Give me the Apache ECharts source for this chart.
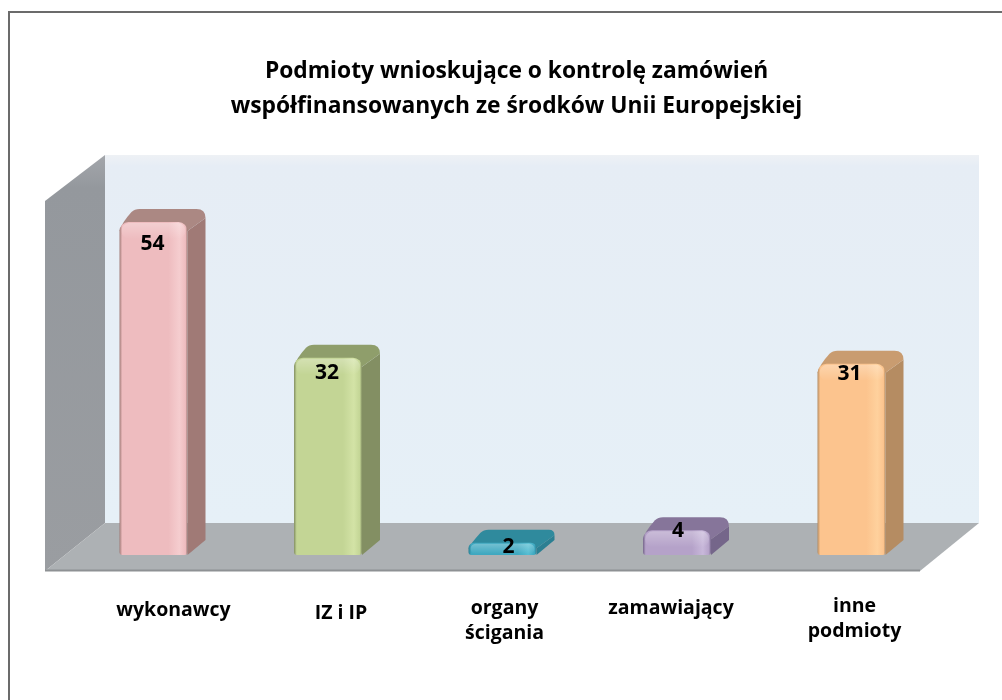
<!DOCTYPE html>
<html>
<head>
<meta charset="utf-8">
<title>Podmioty wnioskujące o kontrolę zamówień</title>
<script src="https://cdn.jsdelivr.net/npm/echarts@6/dist/echarts.min.js"></script>
<style>
  html, body { margin: 0; padding: 0; background: #fff; }
  #chart { width: 1002px; height: 700px; }
</style>
</head>
<body>
<div id="chart"></div>
<script>
const categories = ['wykonawcy', 'IZ i IP', 'organy\nścigania', 'zamawiający', 'inne\npodmioty'];
const values = [54, 32, 2, 4, 31];
const titleText = 'Podmioty wnioskujące o kontrolę zamówień\nwspółfinansowanych ze środków Unii Europejskiej';

// front, highlight, top face, side face
const barColors = [
  ['#eebcbf', '#f5cdcf', '#ab8883', '#a07a76'],
  ['#c3d595', '#d3e3a6', '#8f9e6b', '#838f63'],
  ['#3fa8c0', '#55bdd2', '#2f8a9d', '#2b7f92'],
  ['#b5a2c9', '#c8b8da', '#86759a', '#75668a'],
  ['#fcc48e', '#ffd19d', '#c99c70', '#b58c62']
];

// hand placement of the texts, the source picture does not centre them
const valueNudge = [[-1, 22], [-1, 15], [6, 4], [1, 1], [-2, 10]];
const categoryNudge = [[20, 43], [13, 46], [2, 41], [-6, 41], [3, 39]];

const fontName = '"Open Sans", "Noto Sans", sans-serif';
const halfW = 34;
const dx = 18;
const dy = 13;

function renderBar(params, api) {
  const i = params.dataIndex;
  const base = api.coord([api.value(0), 0]);
  const top = api.coord([api.value(0), api.value(1)]);
  const x0 = base[0] - halfW;
  const x1 = base[0] + halfW;
  const y0 = top[1];
  const y1 = base[1];
  const c = barColors[i];
  const h = y1 - y0;
  const r = Math.min(9, h * 0.45);

  const sidePath = 'M' + x1 + ' ' + (y0 + r) + ' L' + (x1 + dx) + ' ' + (y0 - dy + r) +
    ' L' + (x1 + dx) + ' ' + (y1 - dy - 2) + ' L' + x1 + ' ' + y1 + ' Z';
  const topPath = 'M' + x0 + ' ' + (y0 + r) +
    ' Q' + (x0 + 2) + ' ' + (y0 + 1) + ' ' + (x0 + dx - 6) + ' ' + (y0 - dy + 3) +
    ' Q' + (x0 + dx - 3) + ' ' + (y0 - dy) + ' ' + (x0 + dx + 2) + ' ' + (y0 - dy) +
    ' L' + (x1 + dx - r) + ' ' + (y0 - dy) +
    ' Q' + (x1 + dx) + ' ' + (y0 - dy) + ' ' + (x1 + dx) + ' ' + (y0 - dy + r) +
    ' L' + x1 + ' ' + (y0 + r) + ' Z';

  return {
    type: 'group',
    children: [
      { type: 'path', shape: { pathData: sidePath }, style: { fill: c[3] } },
      { type: 'path', shape: { pathData: topPath }, style: { fill: c[2] } },
      {
        type: 'rect',
        shape: { x: x0, y: y0, width: x1 - x0, height: h, r: [r, r, 3, 3] },
        style: {
          fill: new echarts.graphic.LinearGradient(0, 0, 1, 0, [
            { offset: 0, color: c[3] },
            { offset: 0.04, color: c[0] },
            { offset: 0.72, color: c[0] },
            { offset: 0.88, color: c[1] },
            { offset: 0.97, color: c[0] },
            { offset: 1, color: c[3] }
          ])
        }
      },
      {
        type: 'rect',
        shape: { x: x0 + 2, y: y0 + 1, width: x1 - x0 - 4, height: Math.min(16, h - 2), r: r },
        style: {
          fill: new echarts.graphic.LinearGradient(0, 0, 0, 1, [
            { offset: 0, color: 'rgba(255,255,255,0.28)' },
            { offset: 1, color: 'rgba(255,255,255,0)' }
          ])
        }
      },
      {
        type: 'text',
        style: {
          x: base[0] + valueNudge[i][0],
          y: y0 + valueNudge[i][1],
          text: String(api.value(1)),
          font: 'bold 21px ' + fontName,
          fill: '#000',
          align: 'center',
          verticalAlign: 'middle'
        }
      },
      {
        type: 'text',
        style: {
          x: base[0] + categoryNudge[i][0],
          y: y1 + categoryNudge[i][1],
          text: categories[i],
          font: 'bold 19.5px ' + fontName,
          lineHeight: 25,
          fill: '#000',
          align: 'center',
          verticalAlign: 'top'
        }
      }
    ]
  };
}

const chart = echarts.init(document.getElementById('chart'));

chart.setOption({
  animation: false,
  backgroundColor: '#fff',
  title: {
    text: titleText,
    left: 511.5,
    top: 49,
    textAlign: 'center',
    textStyle: { fontFamily: fontName, fontWeight: 'bold', fontSize: 22.8, lineHeight: 35, color: '#000' }
  },
  grid: { left: 66.25, top: 185, width: 872.5, height: 370 },
  xAxis: {
    type: 'category',
    data: categories,
    axisLine: { show: false },
    axisTick: { show: false },
    axisLabel: { show: false }
  },
  yAxis: {
    type: 'value',
    min: 0,
    max: 60,
    axisLine: { show: false },
    axisTick: { show: false },
    axisLabel: { show: false },
    splitLine: { show: false }
  },
  graphic: [
    // frame, only left and top sides are in the picture
    { type: 'polyline', z: 0, shape: { points: [[9, 700], [9, 12], [1002, 12]] }, style: { fill: null, stroke: '#6b6b6b', lineWidth: 2 } },
    // back wall
    {
      type: 'rect', z: 0, shape: { x: 105, y: 155, width: 874, height: 368 },
      style: {
        fill: new echarts.graphic.LinearGradient(0, 0, 0, 1, [
          { offset: 0, color: '#eef1f5' },
          { offset: 0.03, color: '#e6edf5' },
          { offset: 1, color: '#e6f0f7' }
        ])
      }
    },
    // left wall
    {
      type: 'polygon', z: 0, shape: { points: [[45, 201], [105, 155], [105, 523], [45, 571]] },
      style: {
        fill: new echarts.graphic.LinearGradient(0, 0, 0, 1, [
          { offset: 0, color: '#a3a6ab' },
          { offset: 0.08, color: '#94989d' },
          { offset: 1, color: '#9a9da1' }
        ])
      }
    },
    // floor
    {
      type: 'polygon', z: 0, shape: { points: [[105, 523], [979, 523], [920, 571], [45, 571]] },
      style: { fill: '#adb1b4' }
    },
    { type: 'line', z: 0, shape: { x1: 45, y1: 570.5, x2: 920, y2: 570.5 }, style: { stroke: '#8e9194', lineWidth: 2 } }
  ],
  series: [
    {
      type: 'custom',
      z: 5,
      coordinateSystem: 'cartesian2d',
      renderItem: renderBar,
      data: values.map((v, i) => [i, v]),
      encode: { x: 0, y: 1 },
      clip: false
    }
  ]
});
</script>
</body>
</html>
